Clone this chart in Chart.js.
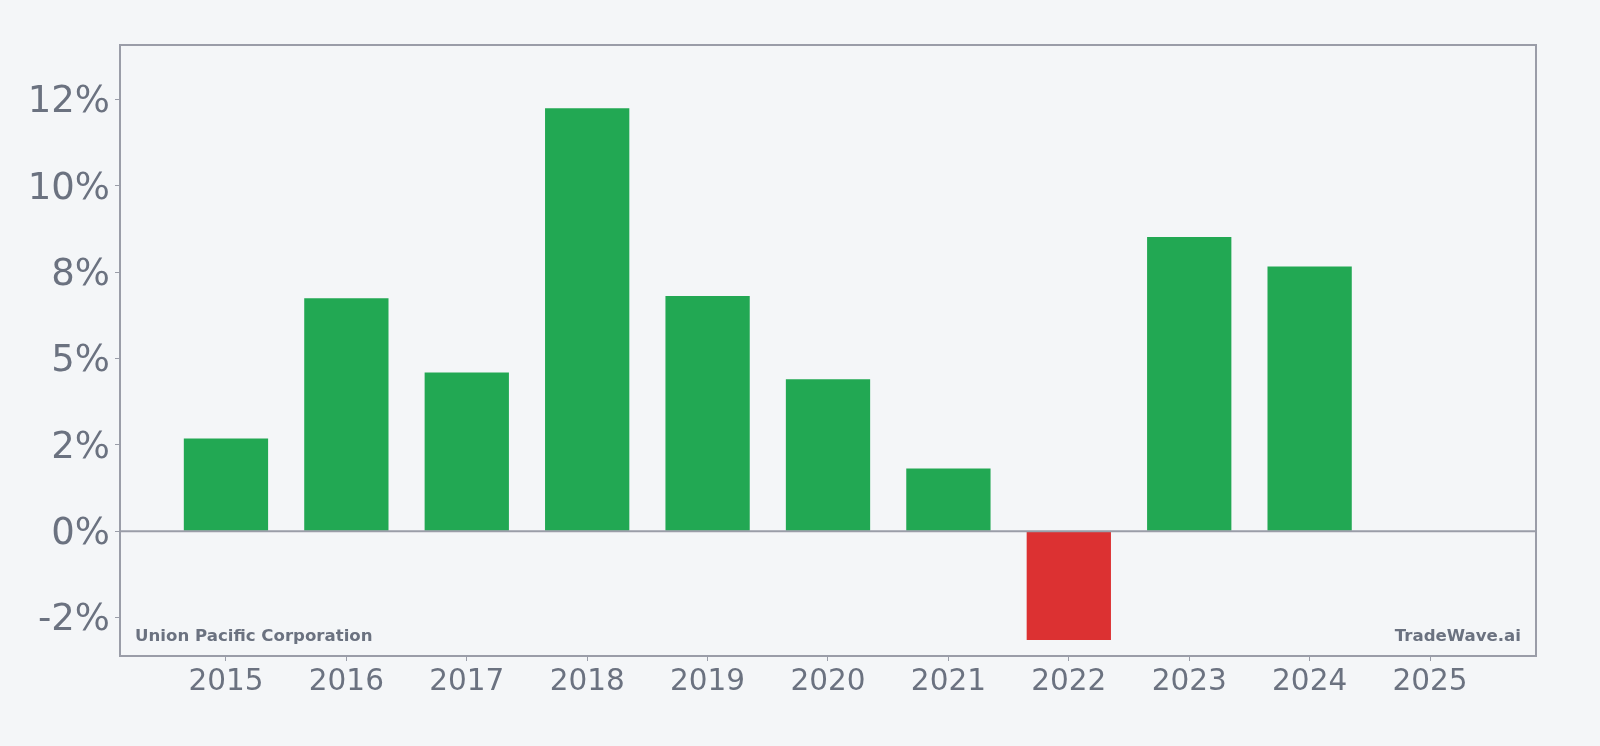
<!DOCTYPE html>
<html lang="en">
<head>
    <meta charset="UTF-8">
    <title>Union Pacific Corporation</title>
    <script src="https://cdn.jsdelivr.net/npm/chart.js@4.4.1/dist/chart.umd.min.js"></script>
    <style>
        html, body {
            margin: 0;
            padding: 0;
            background: #f4f6f8;
        }
        #wrap {
            width: 1600px;
            height: 746px;
        }
    </style>
</head>
<body>
    <div id="wrap"><canvas id="growthChart"></canvas></div>

    <script>
        // data
        var years = ['2015', '2016', '2017', '2018', '2019', '2020', '2021', '2022', '2023', '2024', '2025'];
        var growth = [2.69, 6.75, 4.60, 12.25, 6.81, 4.40, 1.82, -3.15, 8.52, 7.67];
        var yTickValues = [-2.5, 0, 2.5, 5, 7.5, 10, 12.5];
        var yTickLabels = ['-2%', '0%', '2%', '5%', '8%', '10%', '12%'];

        var textGray = '#6b7280';
        var lineGray = '#9a9da8';

        var points = growth.map(function (v, i) { return { x: i, y: v }; });
        var barColors = growth.map(function (v) { return v < 0 ? '#dc3132' : '#22a853'; });

        // frame, zero line and the two captions
        var framePlugin = {
            id: 'frame',
            afterDatasetsDraw: function (chart) {
                var a = chart.chartArea;
                var c = chart.ctx;
                var y0 = chart.scales.y.getPixelForValue(0);
                c.save();
                c.strokeStyle = lineGray;
                c.lineWidth = 2;
                c.beginPath();
                c.moveTo(a.left, y0);
                c.lineTo(a.right, y0);
                c.stroke();
                c.strokeRect(a.left, a.top, a.right - a.left, a.bottom - a.top);
                c.fillStyle = textGray;
                c.font = 'bold 16.6px "DejaVu Sans"';
                c.textBaseline = 'alphabetic';
                c.textAlign = 'left';
                c.fillText('Union Pacific Corporation', a.left + 15, a.bottom - 15);
                c.textAlign = 'right';
                c.fillText('TradeWave.ai', a.right - 15, a.bottom - 15);
                c.restore();
            }
        };

        var ctx = document.getElementById('growthChart').getContext('2d');
        var growthChart = new Chart(ctx, {
            type: 'bar',
            data: {
                datasets: [{
                    data: points,
                    backgroundColor: barColors,
                    borderWidth: 0,
                    barPercentage: 0.7,
                    categoryPercentage: 1.0
                }]
            },
            options: {
                responsive: true,
                maintainAspectRatio: false,
                animation: false,
                layout: { padding: { left: 0, right: 64, top: 45, bottom: 0 } },
                plugins: { legend: { display: false }, tooltip: { enabled: false } },
                scales: {
                    x: {
                        type: 'linear',
                        min: -0.88,
                        max: 10.88,
                        offset: false,
                        afterBuildTicks: function (scale) {
                            scale.ticks = years.map(function (y, i) { return { value: i }; });
                        },
                        afterFit: function (scale) { scale.height = 90; },
                        border: { display: false },
                        grid: {
                            offset: false,
                            drawOnChartArea: false,
                            tickLength: 5,
                            tickColor: lineGray,
                            tickWidth: 1
                        },
                        ticks: {
                            color: textGray,
                            font: { family: 'DejaVu Sans', size: 29.5 },
                            padding: 4,
                            maxRotation: 0,
                            autoSkip: false,
                            callback: function (v) { return years[v]; }
                        }
                    },
                    y: {
                        min: -3.61,
                        max: 14.08,
                        afterBuildTicks: function (scale) {
                            scale.ticks = yTickValues.map(function (v) { return { value: v }; });
                        },
                        afterFit: function (scale) { scale.width = 120; },
                        border: { display: false },
                        grid: {
                            drawOnChartArea: false,
                            tickLength: 5,
                            tickColor: lineGray,
                            tickWidth: 1
                        },
                        ticks: {
                            color: textGray,
                            font: { family: 'DejaVu Sans', size: 37 },
                            padding: 5,
                            labelOffset: 3,
                            callback: function (v) {
                                return yTickLabels[yTickValues.indexOf(v)];
                            }
                        }
                    }
                }
            },
            plugins: [framePlugin]
        });
    </script>
</body>
</html>
